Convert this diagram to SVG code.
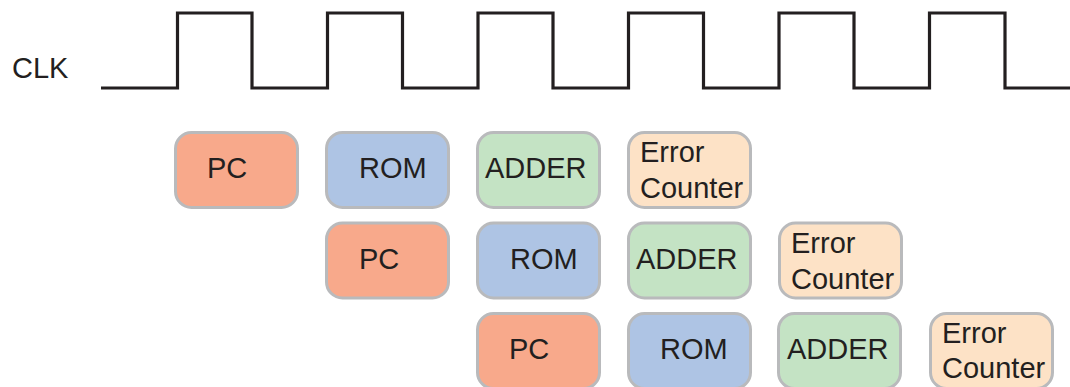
<svg xmlns="http://www.w3.org/2000/svg" width="1070" height="387" viewBox="0 0 1070 387">
<style>
.box{stroke:#b9babc;stroke-width:3}
.pc{fill:#f8a98b}
.rom{fill:#aec4e4}
.add{fill:#c4e3c4}
.err{fill:#fde2c6}
text{font-family:"Liberation Sans",Arial,sans-serif;font-size:29px;fill:#231f20}
.clk{fill:none;stroke:#231f20;stroke-width:3.2}
</style>
<rect width="1070" height="387" fill="#ffffff"/>
<g id="clock">
<text x="12" y="78">CLK</text>
<path class="clk" d="M101,88 H177.5 V13 H252 V88 H327.5 V13 H402.5 V88 H478 V13 H553 V88 H628.5 V13 H703.5 V88 H779 V13 H854 V88 H929.5 V13 H1005 V88 H1070"/>
</g>
<g id="connectors"></g>
<g id="r1-pc"><rect class="box pc" x="175.5" y="132.5" width="122" height="75" rx="16"/><text x="207" y="178">PC</text></g>
<g id="r1-rom"><rect class="box rom" x="326.5" y="132.5" width="122" height="75" rx="16"/><text x="359" y="178">ROM</text></g>
<g id="r1-adder"><rect class="box add" x="477.5" y="132.5" width="122" height="75" rx="16"/><text x="485" y="178">ADDER</text></g>
<g id="r1-err"><rect class="box err" x="628.5" y="132.5" width="122" height="75" rx="16"/><text x="640" y="162">Error</text><text x="640" y="198">Counter</text></g>
<g id="r2-pc"><rect class="box pc" x="326.5" y="223" width="122" height="75" rx="16"/><text x="359" y="268.5">PC</text></g>
<g id="r2-rom"><rect class="box rom" x="477.5" y="223" width="122" height="75" rx="16"/><text x="510" y="268.5">ROM</text></g>
<g id="r2-adder"><rect class="box add" x="628.5" y="223" width="122" height="75" rx="16"/><text x="636" y="268.5">ADDER</text></g>
<g id="r2-err"><rect class="box err" x="779.5" y="223" width="122" height="75" rx="16"/><text x="791" y="252.5">Error</text><text x="791" y="288.5">Counter</text></g>
<g id="r3-pc"><rect class="box pc" x="477.5" y="313.5" width="122" height="75" rx="16"/><text x="509" y="359">PC</text></g>
<g id="r3-rom"><rect class="box rom" x="628.5" y="313.5" width="122" height="75" rx="16"/><text x="660" y="359">ROM</text></g>
<g id="r3-adder"><rect class="box add" x="778.5" y="313.5" width="122" height="75" rx="16"/><text x="787" y="359">ADDER</text></g>
<g id="r3-err"><rect class="box err" x="930.5" y="313.5" width="122" height="75" rx="16"/><text x="942" y="343">Error</text><text x="942" y="378">Counter</text></g>
</svg>
